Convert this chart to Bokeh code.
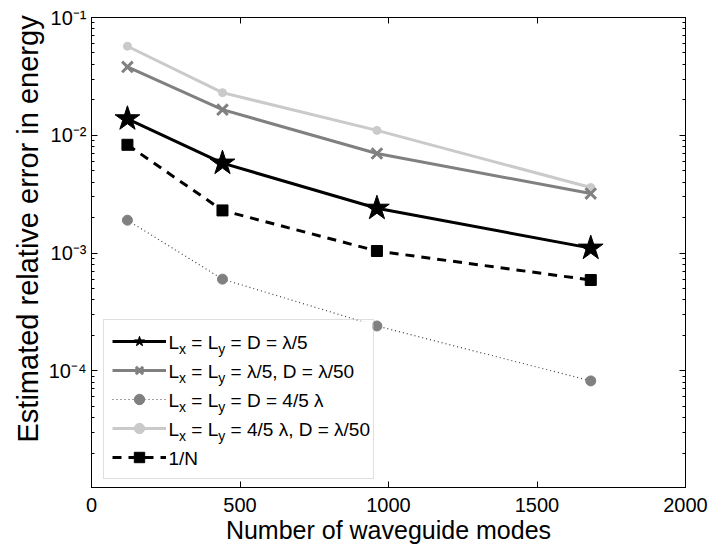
from bokeh.plotting import figure
from bokeh.models import (FixedTicker, LogAxis, LinearAxis, Legend, LegendItem,
                          Label, CustomJSTickFormatter, Range1d, BoxAnnotation, Title)
from bokeh.embed import file_html
from bokeh.resources import INLINE

# ---------------- data ----------------
modes = [121, 441, 961, 1681]
err_a = [0.0138, 0.0058, 0.0024, 0.0011]        # Lx = Ly = D = λ/5
err_b = [0.038, 0.0165, 0.0070, 0.0032]         # Lx = Ly = λ/5, D = λ/50
err_c = [0.0019, 0.00060, 0.00024, 0.000082]    # Lx = Ly = D = 4/5 λ
err_d = [0.057, 0.023, 0.011, 0.0036]           # Lx = Ly = 4/5 λ, D = λ/50
inv_n = [0.0083, 0.0023, 0.00104, 0.00059]     # 1/N

x_ticks = [0, 500, 1000, 1500, 2000]
y_ticks = [1e-4, 1e-3, 1e-2, 1e-1]
y_tick_labels = ["10⁻⁴", "10⁻³", "10⁻²", "10⁻¹"]

legend_rows = [
    ["L", "x", " = L", "y", " = D = λ/5"],
    ["L", "x", " = L", "y", " = λ/5, D = λ/50"],
    ["L", "x", " = L", "y", " = D = 4/5 λ"],
    ["L", "x", " = L", "y", " = 4/5 λ, D = λ/50"],
    ["1/N"],
]

FONT = "Liberation Sans"

p = figure(width=709, height=549, x_range=Range1d(0, 2000),
           y_range=Range1d(1.02e-5, 0.1), y_axis_type="log",
           output_backend="svg", toolbar_location=None,
           min_border_left=91, min_border_right=24,
           min_border_top=17, min_border_bottom=62)
p.background_fill_color = "white"
p.border_fill_color = "white"
p.outline_line_color = "black"
p.outline_line_width = 1
p.xgrid.visible = False
p.ygrid.visible = False

minor = [m * 10.0 ** e for e in range(-6, 0) for m in range(2, 10)]

def style_axis(ax):
    ax.axis_line_color = "black"
    ax.major_tick_line_color = "black"
    ax.major_tick_in = 6
    ax.major_tick_out = 0
    ax.minor_tick_in = 3
    ax.minor_tick_out = 0
    ax.major_label_text_font = FONT
    ax.major_label_text_font_size = "20px"
    ax.major_label_text_color = "black"
    ax.axis_label_text_font = FONT
    ax.axis_label_text_font_size = "25px"
    ax.axis_label_text_font_style = "normal"
    ax.axis_label_text_color = "black"

xa = p.xaxis[0]
style_axis(xa)
xa.ticker = FixedTicker(ticks=x_ticks)
xa.minor_tick_line_color = None
xa.axis_label = "Number of waveguide modes"
xa.axis_label_standoff = 1
xa.major_label_standoff = 10

ya = p.yaxis[0]
style_axis(ya)
ya.ticker = FixedTicker(ticks=y_ticks, minor_ticks=minor)
ya.major_label_overrides = {t: s for t, s in zip(y_ticks, y_tick_labels)}
ya.major_label_standoff = 5

blank = CustomJSTickFormatter(code="return ''")
top = LinearAxis(ticker=FixedTicker(ticks=x_ticks), formatter=blank)
style_axis(top)
top.minor_tick_line_color = None
top.major_label_text_font_size = "1px"
p.add_layout(top, "above")
right = LogAxis(ticker=FixedTicker(ticks=y_ticks, minor_ticks=minor), formatter=blank)
style_axis(right)
right.major_label_text_font_size = "1px"
p.add_layout(right, "right")

# y-axis title (a side title so it can sit a little above the frame centre, as in the reference)
p.add_layout(Title(text="Estimated relative error in energy", align="left", offset=45,
                   text_font=FONT, text_font_size="29px", text_font_style="normal",
                   text_color="black", standoff=4), "left")

# ---------------- series ----------------
GRAY = "#808080"
LIGHT = "#cacaca"

ld = p.line(modes, err_d, line_color=LIGHT, line_width=3)
sd = p.scatter(modes, err_d, marker="circle", size=8, fill_color=LIGHT, line_color=LIGHT)

lb = p.line(modes, err_b, line_color=GRAY, line_width=3)
sb = p.scatter(modes, err_b, marker="x", size=15, line_color=GRAY, line_width=3)

lc = p.line(modes, err_c, line_color="#404040", line_width=1.2, line_dash="1 3")
sc = p.scatter(modes, err_c, marker="circle", size=10, fill_color=GRAY, line_color=GRAY)

ln = p.line(modes, inv_n, line_color="black", line_width=3, line_dash="9 7")
sn = p.scatter(modes, inv_n, marker="square", size=11, fill_color="black", line_color="black")

la = p.line(modes, err_a, line_color="black", line_width=3)
sa = p.scatter(modes, err_a, marker="star", size=26, fill_color="black", line_color="black")

# ---------------- legend ----------------
LEG_X, LEG_Y, PAD, GW, GH, SP, STAND, LW = 12, 8, 8, 54, 26, 3, 3, 196
leg_w = PAD + GW + STAND + LW + PAD
leg_h = 2 * PAD + len(legend_rows) * GH + (len(legend_rows) - 1) * SP
p.add_layout(BoxAnnotation(left=LEG_X, right=LEG_X + leg_w, bottom=LEG_Y, top=LEG_Y + leg_h,
                           left_units="screen", right_units="screen",
                           bottom_units="screen", top_units="screen",
                           fill_color="white", fill_alpha=1.0, line_color=None))

ARIAL = {"L": 0.556, "x": 0.5, "y": 0.5, " ": 0.278, "=": 0.584, "D": 0.722,
         "λ": 0.5, "/": 0.278, "5": 0.556, "0": 0.556, "4": 0.556, ",": 0.278,
         "N": 0.722, "1": 0.556}

def tw(s, fs):
    return sum(ARIAL.get(c, 0.556) for c in s) * fs

FS, SUB = 19, 14
text_x0 = LEG_X + PAD + GW + STAND
for r, pieces in enumerate(legend_rows):
    cx = text_x0
    cy = LEG_Y + leg_h - PAD - GH / 2 - r * (GH + SP)
    for i, piece in enumerate(pieces):
        is_sub = (len(pieces) > 1 and i in (1, 3))
        fs = SUB if is_sub else FS
        lead = len(piece) - len(piece.lstrip(" "))
        cx += lead * tw(" ", fs)
        core = piece.strip(" ")
        p.add_layout(Label(x=cx, y=cy - (6 if is_sub else 0),
                           x_units="screen", y_units="screen", text=core,
                           text_font=FONT, text_font_size=f"{fs}px",
                           text_baseline="middle", text_align="left",
                           text_color="black"))
        cx += tw(core, fs)

legend = Legend(
    items=[LegendItem(label=" ", renderers=[la, sa]),
           LegendItem(label=" ", renderers=[lb, sb]),
           LegendItem(label=" ", renderers=[lc, sc]),
           LegendItem(label=" ", renderers=[ld, sd]),
           LegendItem(label=" ", renderers=[ln, sn])],
    location=(LEG_X, LEG_Y), padding=PAD, spacing=SP, margin=0,
    glyph_width=GW, glyph_height=GH, label_height=GH, label_width=LW,
    label_standoff=STAND, label_text_font_size="19px", label_text_font=FONT,
    border_line_color="#c0c0c0", border_line_width=1,
    background_fill_color="white", background_fill_alpha=0.0)
p.add_layout(legend)

open("out.html", "w").write(file_html(p, INLINE))
